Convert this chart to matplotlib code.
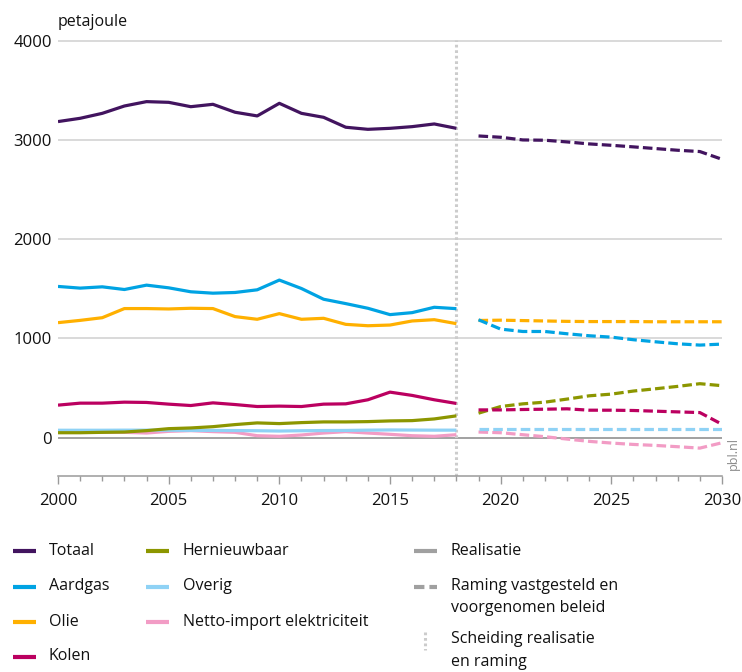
import matplotlib
matplotlib.use("Agg")
import matplotlib.pyplot as plt
from matplotlib.lines import Line2D
from matplotlib.ticker import MultipleLocator

plt.rcParams['font.family'] = ['Open Sans', 'DejaVu Sans']

# ---------------- data ----------------
years_real = list(range(2000, 2019))
years_proj = list(range(2019, 2031))

totaal_real = [3185, 3218, 3268, 3342, 3386, 3379, 3335, 3359, 3279, 3242,
               3369, 3268, 3228, 3128, 3107, 3117, 3134, 3161, 3117]
totaal_proj = [3040, 3027, 3000, 2997, 2980, 2960, 2946, 2930, 2913, 2896, 2883, 2805]

aardgas_real = [1524, 1507, 1520, 1493, 1537, 1510, 1470, 1456, 1463, 1490,
                1588, 1503, 1395, 1351, 1304, 1240, 1260, 1314, 1300]
aardgas_proj = [1188, 1094, 1070, 1070, 1047, 1027, 1013, 987, 966, 946, 933, 943]

olie_real = [1159, 1182, 1209, 1301, 1301, 1297, 1304, 1301, 1220, 1193,
             1250, 1193, 1203, 1142, 1128, 1135, 1176, 1189, 1149]
olie_proj = [1181, 1184, 1180, 1176, 1172, 1170, 1170, 1170, 1168, 1168, 1168, 1168]

kolen_real = [328, 348, 348, 358, 355, 338, 324, 351, 334, 314,
              318, 314, 338, 341, 382, 459, 426, 382, 345]
kolen_proj = [280, 280, 284, 287, 291, 277, 277, 274, 267, 260, 253, 135]

hernieuwbaar_real = [50, 50, 54, 57, 71, 91, 98, 111, 132, 149,
                     142, 152, 159, 159, 162, 169, 172, 189, 220]
hernieuwbaar_proj = [247, 314, 341, 358, 389, 422, 439, 470, 493, 517, 544, 524]

overig_real = [75, 75, 75, 76, 76, 75, 74, 73, 72, 70,
               67, 70, 72, 73, 76, 78, 77, 76, 76]
overig_proj = [91, 91, 91, 91, 91, 91, 91, 91, 91, 91, 91, 91]

netto_real = [57, 54, 54, 54, 47, 64, 71, 61, 54, 20,
              14, 27, 47, 61, 47, 34, 20, 14, 30]
netto_proj = [57, 50, 30, 10, -14, -37, -54, -68, -78, -91, -105, -51]

series = [
    ("Totaal", totaal_real, totaal_proj, "#42145f"),
    ("Aardgas", aardgas_real, aardgas_proj, "#00a3e3"),
    ("Olie", olie_real, olie_proj, "#ffb000"),
    ("Kolen", kolen_real, kolen_proj, "#bb0060"),
    ("Hernieuwbaar", hernieuwbaar_real, hernieuwbaar_proj, "#8c9600"),
    ("Overig", overig_real, overig_proj, "#8fd2f5"),
    ("Netto-import elektriciteit", netto_real, netto_proj, "#f29cc5"),
]

y_ticks = [0, 1000, 2000, 3000, 4000]
x_ticks = [2000, 2005, 2010, 2015, 2020, 2025, 2030]

# ---------------- figure ----------------
W, H = 742, 672
fig = plt.figure(figsize=(W / 100, H / 100), dpi=100)

def fx(px):
    return px / W

def fy(py):
    return 1 - py / H

ax_left, ax_right, ax_bottom = 58, 722, 476
ymin, ymax = -386, 4005
scale = (437.7 - 40.7) / 4000
ax_top = ax_bottom - (ymax - ymin) * scale
ax = fig.add_axes([fx(ax_left), fy(ax_bottom), fx(ax_right - ax_left), (ax_bottom - ax_top) / H])

ax.set_xlim(2000, 2030)
ax.set_ylim(ymin, ymax)

for v in y_ticks:
    if v == 0:
        ax.axhline(v, color="#9a9a9a", lw=1.3, zorder=1)
    else:
        ax.axhline(v, color="#cfcfcf", lw=1.1, zorder=1)

# separator
ax.axvline(2018, color="#cccccc", lw=2.2, linestyle=(0, (0.9, 0.9)), zorder=1)

dash = (0, (3.0, 1.3))
for name, real, proj, col in series[::-1]:
    ax.plot(years_real, real, color=col, lw=2.3, solid_capstyle="butt", zorder=3)
    ax.plot(years_proj, proj, color=col, lw=2.3, linestyle=dash, zorder=3)

for s in ["left", "top", "right"]:
    ax.spines[s].set_visible(False)
ax.spines["bottom"].set_color("#9a9a9a")
ax.spines["bottom"].set_linewidth(1.1)

ax.set_yticks(y_ticks)
ax.set_yticklabels([str(v) for v in y_ticks])
ax.tick_params(axis="y", length=0, pad=4.5, labelsize=12, labelcolor="#111111")

ax.set_xticks(x_ticks)
ax.set_xticklabels([str(v) for v in x_ticks])
ax.xaxis.set_minor_locator(MultipleLocator(1))
ax.tick_params(axis="x", which="major", length=6, width=1.0, color="#9a9a9a",
               pad=6, labelsize=12, labelcolor="#111111")
ax.tick_params(axis="x", which="minor", length=3.5, width=1.0, color="#9a9a9a")

# unit label
fig.text(fx(58), fy(22), "petajoule", ha="left", va="center", fontsize=11.5, color="#111111")

# pbl.nl
fig.text(fx(733), fy(453), "pbl.nl", rotation=90, ha="center", va="center",
         fontsize=9, color="#8a8a8a")

# ---------------- legend (manual) ----------------
rows = [551, 586.5, 621.5, 656.5]
col1 = series[:4]
col2 = series[4:]
for (name, _, _, col), ry in zip(col1, rows):
    fig.add_artist(Line2D([fx(13), fx(36)], [fy(ry), fy(ry)], color=col, lw=3,
                          solid_capstyle="butt"))
    fig.text(fx(49), fy(ry), name, ha="left", va="center", fontsize=11.5, color="#111111")
for (name, _, _, col), ry in zip(col2, rows):
    fig.add_artist(Line2D([fx(146), fx(169)], [fy(ry), fy(ry)], color=col, lw=3,
                          solid_capstyle="butt"))
    fig.text(fx(183), fy(ry), name, ha="left", va="center", fontsize=11.5, color="#111111")

gray = "#a0a0a0"
fig.add_artist(Line2D([fx(414), fx(437)], [fy(rows[0]), fy(rows[0])], color=gray, lw=3,
                      solid_capstyle="butt"))
fig.text(fx(451), fy(rows[0]), "Realisatie", ha="left", va="center", fontsize=11.5, color="#111111")
fig.add_artist(Line2D([fx(414), fx(437)], [fy(rows[1]), fy(rows[1])], color=gray, lw=3,
                      linestyle=(0, (2.5, 1.2))))
fig.text(fx(451), fy(rows[1]), "Raming vastgesteld en", ha="left", va="center",
         fontsize=11.5, color="#111111")
fig.text(fx(451), fy(608), "voorgenomen beleid", ha="left", va="center",
         fontsize=11.5, color="#111111")
fig.add_artist(Line2D([fx(425), fx(425)], [fy(632), fy(650)], color="#cccccc", lw=2.2,
                      linestyle=(0, (0.9, 0.9))))
fig.text(fx(451), fy(639), "Scheiding realisatie", ha="left", va="center",
         fontsize=11.5, color="#111111")
fig.text(fx(451), fy(662), "en raming", ha="left", va="center", fontsize=11.5, color="#111111")

fig.savefig("out.png", dpi=100)
